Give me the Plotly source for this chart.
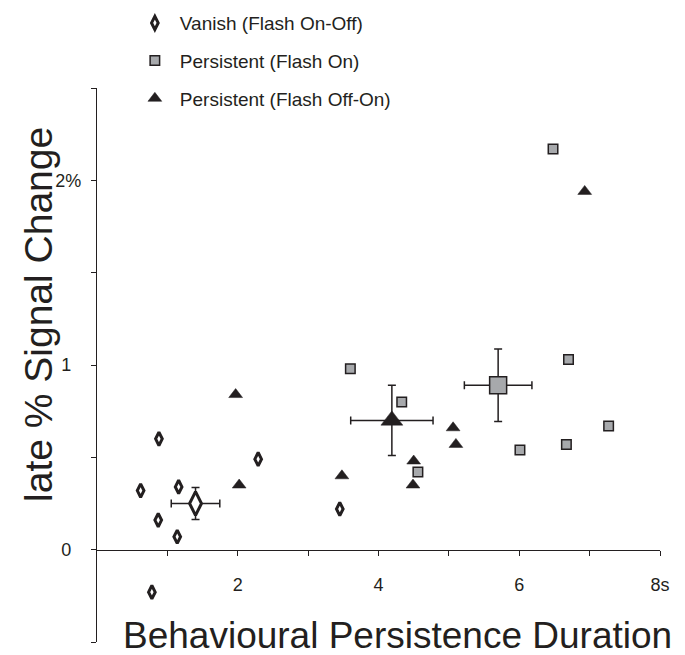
import plotly.graph_objects as go

# ---- data ----
vanish_x = [0.62, 0.78, 0.87, 0.88, 1.14, 1.16, 2.29, 3.45]
vanish_y = [0.32, -0.23, 0.16, 0.60, 0.07, 0.34, 0.49, 0.22]

flash_on_x = [3.60, 4.33, 4.56, 6.01, 6.48, 6.67, 6.70, 7.27]
flash_on_y = [0.98, 0.80, 0.42, 0.54, 2.17, 0.57, 1.03, 0.67]

off_on_x = [1.97, 2.02, 3.48, 4.49, 4.50, 5.06, 5.10, 6.93]
off_on_y = [0.84, 0.35, 0.40, 0.35, 0.48, 0.66, 0.57, 1.94]

# group means with error bars: vanish, flash on, flash off-on
mean_x = [1.40, 5.70, 4.19]
mean_y = [0.25, 0.89, 0.70]
err_x = [0.345, 0.48, 0.585]
err_y = [0.086, 0.196, 0.19]

series_names = ["Vanish (Flash On-Off)", "Persistent (Flash On)", "Persistent (Flash Off-On)"]

x_tickvals = [1, 2, 3, 4, 5, 6, 7, 8]
x_ticktext = ["", "2", "", "4", "", "6", "", "8s"]
y_tickvals = [-0.5, 0, 0.5, 1, 1.5, 2, 2.5]
y_ticktext = ["", "0\u00a0\u00a0", "", "1\u00a0\u00a0", "", "2%", ""]

x_title = "Behavioural Persistence Duration"
y_title = "late % Signal Change"

INK = "#231f20"
GREY = "#a7a9ac"
FONT = "Liberation Sans, Arial, sans-serif"

fig = go.Figure()

# individual points
fig.add_trace(go.Scatter(
    x=vanish_x, y=vanish_y, mode="markers", name=series_names[0], legendgroup="a",
    marker=dict(symbol="diamond-tall", size=9.5, color="white", line=dict(color=INK, width=3)),
    cliponaxis=False))
fig.add_trace(go.Scatter(
    x=flash_on_x, y=flash_on_y, mode="markers", name=series_names[1], legendgroup="b",
    marker=dict(symbol="square", size=9.5, color=GREY, line=dict(color=INK, width=1.5)),
    cliponaxis=False))
fig.add_trace(go.Scatter(
    x=off_on_x, y=off_on_y, mode="markers", name=series_names[2], legendgroup="c",
    marker=dict(symbol="triangle-up", size=12, color=INK, line=dict(color=INK, width=0.5)),
    cliponaxis=False))

# means with error bars
mean_styles = [
    dict(symbol="diamond-tall", size=17, color="white", line=dict(color=INK, width=3)),
    dict(symbol="square", size=17, color=GREY, line=dict(color=INK, width=1.5)),
    dict(symbol="triangle-up", size=19, color=INK, line=dict(color=INK, width=0.5)),
]
for i, grp in enumerate(["a", "b", "c"]):
    fig.add_trace(go.Scatter(
        x=[mean_x[i]], y=[mean_y[i]], mode="markers", legendgroup=grp, showlegend=False,
        marker=mean_styles[i],
        error_x=dict(type="data", array=[err_x[i]], color=INK, thickness=1.5, width=4),
        error_y=dict(type="data", array=[err_y[i]], color=INK, thickness=1.5, width=4),
        cliponaxis=False))

# the page body adds an 8px offset, so the figure is 8px smaller than the window
fig.update_layout(
    width=677, height=647,
    margin=dict(l=89, r=25, t=80, b=12.5, autoexpand=False),
    paper_bgcolor="white", plot_bgcolor="white",
    font=dict(family=FONT, color=INK, size=18),
    showlegend=True,
    legend=dict(
        xref="container", yref="paper", x=0.180, y=1.1515, xanchor="left", yanchor="top",
        font=dict(size=19, family=FONT, color=INK), itemwidth=40, tracegroupgap=10,
        bgcolor="rgba(0,0,0,0)"),
    xaxis=dict(
        range=[0, 8], anchor="free", position=1/6, showline=True, linecolor=INK, linewidth=1.2,
        ticks="outside", ticklen=5, tickcolor=INK, tickwidth=1.2,
        tickvals=x_tickvals, ticktext=x_ticktext, ticklabelstandoff=14,
        tickfont=dict(size=18, family=FONT, color=INK),
        showgrid=False, zeroline=False),
    yaxis=dict(
        range=[-0.5, 2.5], showline=True, linecolor=INK, linewidth=1.2,
        ticks="outside", ticklen=5, tickcolor=INK, tickwidth=1.2,
        tickvals=y_tickvals, ticktext=y_ticktext, ticklabelstandoff=6,
        tickfont=dict(size=18, family=FONT, color=INK),
        showgrid=False, zeroline=False),
    annotations=[
        dict(text=x_title, xref="paper", yref="paper", x=0.534, y=0.012,
             xanchor="center", yanchor="middle", showarrow=False,
             font=dict(size=37, family=FONT, color=INK)),
        dict(text=y_title, xref="paper", yref="paper", x=-0.105, y=0.592, textangle=-90,
             xanchor="center", yanchor="middle", showarrow=False,
             font=dict(size=39, family=FONT, color=INK)),
    ],
)

fig.write_html("out.html")
